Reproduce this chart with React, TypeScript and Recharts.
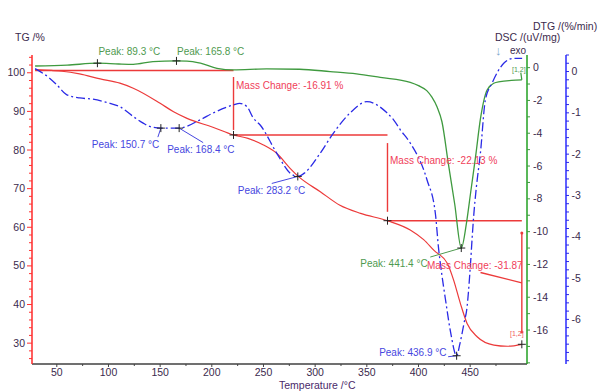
import React from 'react';
import { ComposedChart, Line, XAxis, YAxis, ReferenceDot } from 'recharts';

const FONT = 'Arial, "Liberation Sans", sans-serif';
const TICK_COLOR = '#3b2a4d';
const RED = '#ec3a3a';
const GREEN = '#3f9a3f';
const BLUE = '#2a2ae6';

// TG (%) vs temperature (°C)
const tgTemp = [29, 45, 55, 72, 92, 111, 124, 150, 163, 176, 201, 221, 235, 250, 263, 276, 284, 305, 324, 344, 370, 392, 405, 415, 428, 434, 440.5, 447, 457, 473, 486, 500];
const tgValue = [100.8, 100.6, 100.4, 99.7, 98.4, 97.3, 96.0, 92.1, 89.9, 88.2, 85.9, 83.9, 83.0, 81.3, 79.1, 75.2, 73.1, 69.2, 65.7, 63.6, 61.7, 59.3, 56.8, 54.0, 50.6, 46.3, 40.3, 35.1, 31.6, 29.5, 29.2, 29.7];

// DSC (uV/mg)
const dscTemp = [29, 60, 89.3, 110, 124, 143, 165.8, 176, 189, 205, 221, 253, 285, 314.5, 340, 363, 392, 400, 408, 413, 418, 422.7, 429, 435, 441.4, 446.6, 450.5, 455.3, 460, 466.4, 472.8, 479, 490, 500];
const dscValue = [0.10, 0.15, 0.27, 0.22, 0.20, 0.37, 0.41, 0.40, 0.27, -0.04, -0.14, -0.08, -0.10, -0.24, -0.38, -0.6, -0.9, -1.1, -1.4, -1.8, -2.4, -3.3, -5.9, -8.3, -11.0, -9.4, -7.6, -5.4, -3.1, -1.36, -0.95, -0.85, -0.78, -0.75];

// DTG (%/min)
const dtgTemp = [29, 43, 50, 59.4, 72.3, 85, 101.4, 111, 124, 133.6, 140, 150.7, 168.4, 188.6, 201.5, 220.8, 227, 234, 240, 247, 262.9, 275.8, 283.2, 290, 304.8, 317.7, 333.9, 350.1, 369.5, 375.9, 382.4, 392, 408.2, 416.3, 419.5, 422.5, 426, 431, 436.9, 440, 444, 447, 450.2, 452, 453.4, 456, 459.9, 464.7, 471.2, 482.5, 492.2, 500.3];
const dtgValue = [0.07, -0.16, -0.32, -0.56, -0.64, -0.67, -0.77, -0.85, -1.09, -1.25, -1.33, -1.37, -1.37, -1.17, -1.0, -0.81, -0.77, -0.85, -1.12, -1.3, -1.98, -2.46, -2.54, -2.45, -1.98, -1.49, -1.0, -0.73, -1.0, -1.17, -1.41, -1.73, -2.62, -3.43, -4.3, -4.9, -5.5, -6.3, -6.88, -6.6, -6.1, -5.7, -4.7, -4.0, -3.5, -2.8, -1.98, -0.69, -0.28, 0.2, 0.32, 0.32];

// peaks
const dscPeakTemp = [89.3, 165.8, 441.4];
const dscPeakValue = [0.27, 0.41, -11.0];
const dtgPeakTemp = [150.7, 168.4, 283.2, 436.9];
const dtgPeakValue = [-1.37, -1.37, -2.54, -6.88];

// mass change steps
const stepTemp = [221, 370, 500];
const stepLevel = [100.6, 83.9, 61.7, 29.7];
const stepTop = [98.9, 81.8, 58.5];
const stepBottom = [85.2, 64.0, 32.9];
const leaderTemp = [460, 500];
const leaderLevel = [48.3, 45.6];

// ticks
const tempTicks = [50, 75, 100, 125, 150, 175, 200, 225, 250, 275, 300, 325, 350, 375, 400, 425, 450, 475];
const tgTicks = [26, 28, 30, 32, 34, 36, 38, 40, 42, 44, 46, 48, 50, 52, 54, 56, 58, 60, 62, 64, 66, 68, 70, 72, 74, 76, 78, 80, 82, 84, 86, 88, 90, 92, 94, 96, 98, 100, 102, 104];
const dscTicks = [-18, -17, -16, -15, -14, -13, -12, -11, -10, -9, -8, -7, -6, -5, -4, -3, -2, -1, 0];
const dscLabels = [-16, -14, -12, -10, -8, -6, -4, -2, 0];
const dtgTicks: number[] = [];
for (let i = -35; i <= 2; i++) dtgTicks.push(Math.round(i * 2) / 10);
const dtgLabels = [-6, -5, -4, -3, -2, -1, 0];

const toRows = (t: number[], v: number[]) => t.map((x, i) => ({ t: x, v: v[i] }));
const tgData = toRows(tgTemp, tgValue);
const dscData = toRows(dscTemp, dscValue);
const dtgData = toRows(dtgTemp, dtgValue);

// construction lines of the mass change steps
const massLines: { t: number; v: number }[][] = [
  toRows([tgTemp[0], stepTemp[0]], [stepLevel[0], stepLevel[0]]),
  toRows([stepTemp[0], stepTemp[1]], [stepLevel[1], stepLevel[1]]),
  toRows([stepTemp[1], stepTemp[2]], [stepLevel[2], stepLevel[2]]),
  ...stepTemp.map((t, i) => toRows([t, t], [stepTop[i], stepBottom[i]])),
  toRows(leaderTemp, leaderLevel),
];
const dscHook = toRows([500, 499], [-0.75, -0.3]);

// label placement relative to the marker
const dscLabelPos = [
  { dx: 1, dy: -8 },
  { dx: 0.5, dy: -6 },
  { dx: -101, dy: 18.5, lx: -31, ly: 9 },
];
const dtgLabelPos = [
  { dx: -69, dy: 20, lx: -3, ly: 9 },
  { dx: -12, dy: 25, lx: 24, ly: 14.5 },
  { dx: -60, dy: 18, lx: -26, ly: 7 },
  { dx: -77.5, dy: 0.5, lx: -8.5, ly: 1 },
];

const cross = (cx: number, cy: number) => (
  <>
    <line x1={cx - 4} x2={cx + 4} y1={cy} y2={cy} stroke="#222" strokeWidth={1} />
    <line x1={cx} x2={cx} y1={cy - 4} y2={cy + 4} stroke="#222" strokeWidth={1} />
  </>
);

const peakShape = (label: string, color: string, pos: any) => (props: any) => {
  const { cx, cy } = props;
  return (
    <g>
      {pos.lx !== undefined && (
        <line x1={cx + pos.lx} y1={cy + pos.ly} x2={cx} y2={cy} stroke={color} strokeWidth={1} />
      )}
      {cross(cx, cy)}
      <text x={cx + pos.dx} y={cy + pos.dy} fill={color} fontSize={10} fontFamily={FONT}>
        {label}
      </text>
    </g>
  );
};

const crossShape = (props: any) => <g>{cross(props.cx, props.cy)}</g>;

const TgTick = (props: any) => {
  const { x, y, payload } = props;
  const v = payload.value;
  const major = v % 10 === 0;
  return (
    <g>
      <line x1={x} x2={x - (major ? 5 : 3)} y1={y} y2={y} stroke="#ff3030" />
      {major && (
        <text x={x - 7} y={y + 3.5} textAnchor="end" fontSize={10.5} fill={TICK_COLOR} fontFamily={FONT}>
          {v}
        </text>
      )}
    </g>
  );
};

const DscTick = (props: any) => {
  const { x, y, payload } = props;
  const v = payload.value;
  const major = dscLabels.includes(v);
  return (
    <g>
      <line x1={x} x2={x + 3} y1={y} y2={y} stroke={GREEN} />
      {major && (
        <text x={x + 6} y={y + 3.5} fontSize={10.5} fill={TICK_COLOR} fontFamily={FONT}>
          {v}
        </text>
      )}
    </g>
  );
};

const DtgTick = (props: any) => {
  const { x, y, payload } = props;
  const v = payload.value;
  const major = dtgLabels.some((l) => Math.abs(l - v) < 1e-6);
  return (
    <g>
      <line x1={x} x2={x + 3} y1={y} y2={y} stroke={BLUE} />
      {major && (
        <text x={x + 5.5} y={y + 3.5} fontSize={10.5} fill={TICK_COLOR} fontFamily={FONT}>
          {Math.round(v)}
        </text>
      )}
    </g>
  );
};

const TempTick = (props: any) => {
  const { x, y, payload } = props;
  const v = payload.value;
  const major = v % 50 === 0;
  return (
    <g>
      <line x1={x} x2={x} y1={y} y2={y + (major ? 3 : 2)} stroke="#444" />
      {major && (
        <text x={x} y={y + 12} textAnchor="middle" fontSize={10.5} fill={TICK_COLOR} fontFamily={FONT}>
          {v}
        </text>
      )}
    </g>
  );
};

export default function App() {
  return (
    <div style={{ position: 'absolute', left: 0, top: 0, width: 600, height: 392, background: '#fff' }}>
      <ComposedChart width={600} height={392} margin={{ top: 55, right: 0, bottom: 0, left: 0 }}>
        <XAxis
          dataKey="t"
          type="number"
          domain={[26, 505]}
          allowDataOverflow
          ticks={tempTicks}
          interval={0}
          tickSize={0}
          tickMargin={0}
          tick={<TempTick />}
          height={28}
          axisLine={{ stroke: '#707070', strokeWidth: 2 }}
          tickLine={false}
        />
        <YAxis
          yAxisId="tg"
          orientation="left"
          type="number"
          domain={[24.6, 104.6]}
          allowDataOverflow
          ticks={tgTicks}
          interval={0}
          width={32}
          tickSize={0}
          tickMargin={0}
          tick={<TgTick />}
          axisLine={{ stroke: '#ff2a2a', strokeWidth: 1.5 }}
          tickLine={false}
        />
        <YAxis
          yAxisId="dsc"
          orientation="right"
          type="number"
          domain={[-18.07, 0.77]}
          allowDataOverflow
          ticks={dscTicks}
          interval={0}
          width={39}
          tickSize={0}
          tickMargin={0}
          tick={<DscTick />}
          axisLine={{ stroke: '#22a022', strokeWidth: 1.5 }}
          tickLine={false}
        />
        <YAxis
          yAxisId="dtg"
          orientation="right"
          type="number"
          domain={[-7.08, 0.4]}
          allowDataOverflow
          ticks={dtgTicks}
          interval={0}
          width={34}
          tickSize={0}
          tickMargin={0}
          tick={<DtgTick />}
          axisLine={{ stroke: '#2b2bff', strokeWidth: 1.5 }}
          tickLine={false}
        />

        {massLines.map((seg, i) => (
          <Line key={`m${i}`} data={seg} dataKey="v" yAxisId="tg" type="linear" stroke={RED} strokeWidth={1.4} dot={false} isAnimationActive={false} />
        ))}
        <Line data={dscHook} dataKey="v" yAxisId="dsc" type="linear" stroke={GREEN} strokeWidth={1.2} dot={false} isAnimationActive={false} />
        <ReferenceDot yAxisId="tg" x={500} y={stepTop[2]} r={1.5} fill={RED} stroke="none" />
        <ReferenceDot yAxisId="tg" x={500} y={stepBottom[2]} r={1.5} fill={RED} stroke="none" />

        <Line data={tgData} dataKey="v" yAxisId="tg" type="monotone" stroke={RED} strokeWidth={1.2} dot={false} isAnimationActive={false} />
        <Line data={dscData} dataKey="v" yAxisId="dsc" type="monotone" stroke={GREEN} strokeWidth={1.3} dot={false} isAnimationActive={false} />
        <Line data={dtgData} dataKey="v" yAxisId="dtg" type="monotone" stroke={BLUE} strokeWidth={1.3} strokeDasharray="9 3 2 3" dot={false} isAnimationActive={false} />

        {stepTemp.map((t, i) => (
          <ReferenceDot key={`c${i}`} yAxisId="tg" x={t} y={stepLevel[i + 1]} r={4} shape={crossShape} />
        ))}
        {dscPeakTemp.map((t, i) => (
          <ReferenceDot key={`g${i}`} yAxisId="dsc" x={t} y={dscPeakValue[i]} r={4}
            shape={peakShape(`Peak: ${t.toFixed(1)} °C`, '#4f9a4f', dscLabelPos[i])} />
        ))}
        {dtgPeakTemp.map((t, i) => (
          <ReferenceDot key={`b${i}`} yAxisId="dtg" x={t} y={dtgPeakValue[i]} r={4}
            shape={peakShape(`Peak: ${t.toFixed(1)} °C`, '#4646e0', dtgLabelPos[i])} />
        ))}
      </ComposedChart>

      <svg width={600} height={392} style={{ position: 'absolute', left: 0, top: 0, pointerEvents: 'none' }} fontFamily={FONT}>
        <text x={15} y={41} fontSize={10.5} fill={TICK_COLOR}>TG /%</text>
        <text x={495} y={41} fontSize={10.5} fill={TICK_COLOR}>DSC /(uV/mg)</text>
        <text x={533} y={30} fontSize={10.5} fill={TICK_COLOR}>DTG /(%/min)</text>
        <text x={495} y={55} fontSize={13} fill="#7fa6cc">↓</text>
        <text x={510} y={54} fontSize={10} fill={TICK_COLOR}>exo</text>
        <text x={279} y={389} fontSize={10.5} fill="#4a2a6a">Temperature /°C</text>
        <text x={236} y={89} fontSize={10} fill="#f0405a">Mass Change: -16.91 %</text>
        <text x={390} y={164} fontSize={10} fill="#f0405a">Mass Change: -22.13 %</text>
        <text x={427} y={268.5} fontSize={10} fill="#f0405a">Mass Change: -31.87</text>
        <text x={512} y={72} fontSize={7} fill="#4f9a4f">[1,2]</text>
        <text x={510} y={336} fontSize={7} fill="#f06060">[1,2]</text>
      </svg>
    </div>
  );
}
